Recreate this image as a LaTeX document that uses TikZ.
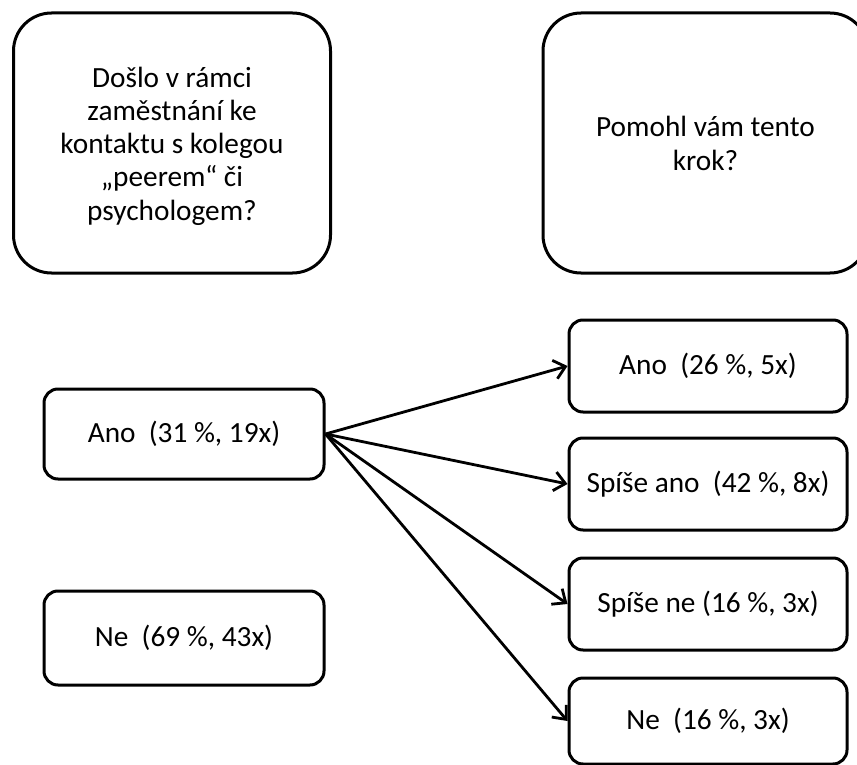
\documentclass[tikz,border=0pt]{standalone}
\usepackage{fontspec}
\setmainfont{Carlito}
\usetikzlibrary{arrows.meta}
\newcommand{\mylines}[3]{\parbox{300pt}{\fontsize{29.3}{#1}\selectfont\baselineskip=#1\lineskiplimit=-100pt\vspace*{#2}\centering #3\par}}
\begin{document}
\begin{tikzpicture}[x=1pt,y=-1pt,
  big/.style={draw, line width=3pt, rounded corners=38pt, minimum width=317pt, minimum height=260pt, inner sep=0pt, font=\fontsize{29.3}{35}\selectfont},
  small/.style={draw, line width=3pt, rounded corners=14pt, minimum width=280pt, minimum height=90pt, inner sep=0pt, font=\fontsize{29.3}{35}\selectfont},
  arr/.style={line width=2.8pt, -{Straight Barb[length=11pt,width=19pt]}}]
\useasboundingbox (0,0) rectangle (857,765);
\node[big] (q1) at (172,143) {\mylines{33.3pt}{6pt}{Došlo v rámci\\zaměstnání ke\\kontaktu s kolegou\\„peerem“ či\\psychologem?}};
\node[big, minimum width=325pt] (q2) at (705.5,143) {\mylines{34pt}{0pt}{Pomohl vám tento\\krok?}};
\node[small] (ano) at (184,434) {Ano\ \ (31 \%, 19x)};
\node[small, minimum height=94pt] (ne) at (184,638) {Ne\ \ (69 \%, 43x)};
\node[small, minimum width=278pt, minimum height=92pt] (r1) at (708,366) {Ano\ \ (26 \%, 5x)};
\node[small, minimum width=278pt, minimum height=92pt] (r2) at (708,484) {Spíše ano\ \ (42 \%, 8x)};
\node[small, minimum width=278pt, minimum height=92pt] (r3) at (708,604) {Spíše ne (16 \%, 3x)};
\node[small, minimum width=278pt, minimum height=86pt] (r4) at (708,721) {Ne\ \ (16 \%, 3x)};
\draw[arr] (ano.east) -- (r1.west);
\draw[arr] (ano.east) -- (r2.west);
\draw[arr] (ano.east) -- (r3.west);
\draw[arr] (ano.east) -- (r4.west);
\end{tikzpicture}
\end{document}
